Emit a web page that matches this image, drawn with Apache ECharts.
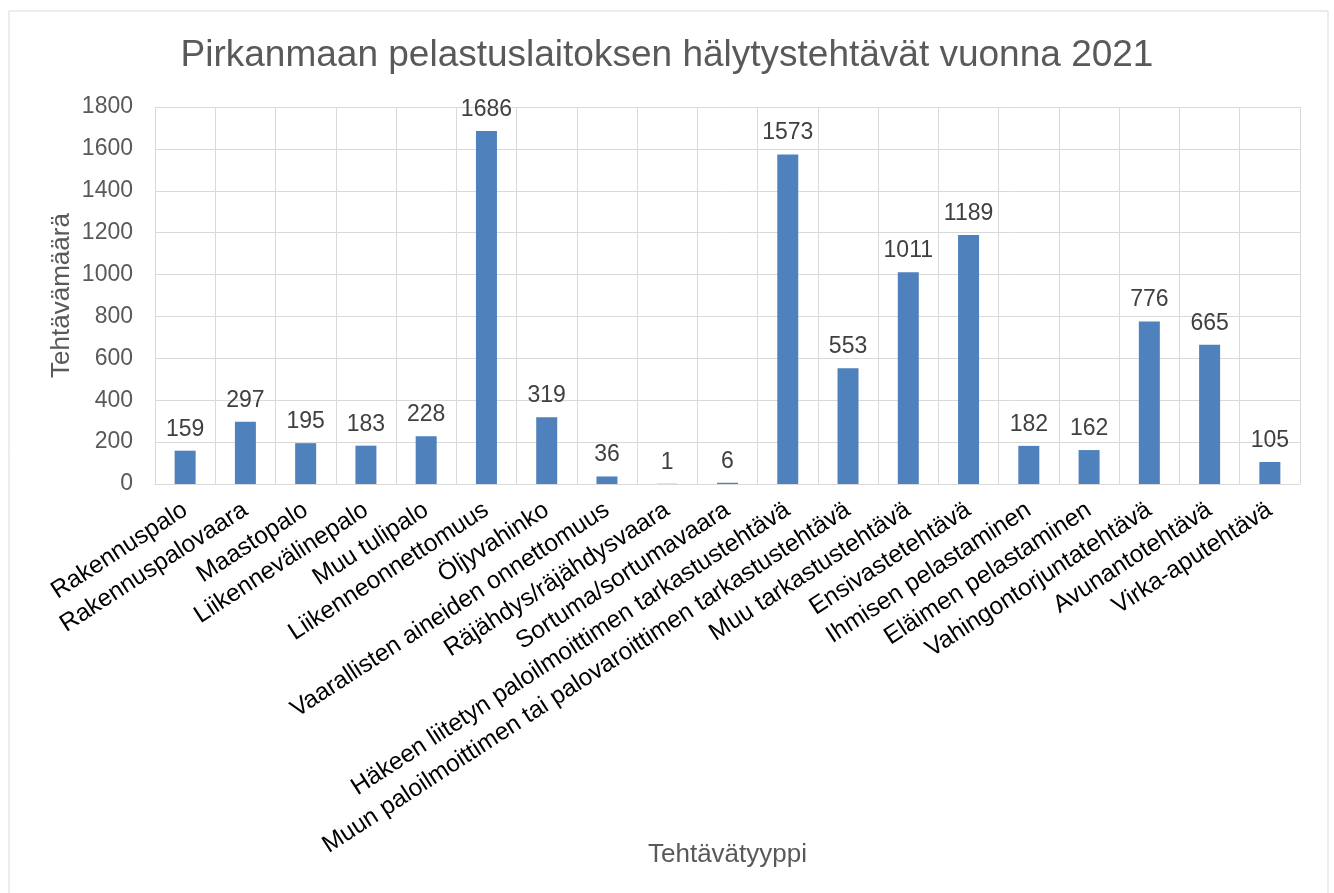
<!DOCTYPE html>
<html>
<head>
<meta charset="utf-8">
<script src="https://cdn.jsdelivr.net/npm/echarts@6/dist/echarts.min.js"></script>
<style>
html, body { margin: 0; padding: 0; background: #fff; }
#chart { width: 1334px; height: 893px; }
</style>
</head>
<body>
<div id="chart"></div>
<script>
var categories = ['Rakennuspalo', 'Rakennuspalovaara', 'Maastopalo', 'Liikennevälinepalo', 'Muu tulipalo',
    'Liikenneonnettomuus', 'Öljyvahinko', 'Vaarallisten aineiden onnettomuus', 'Räjähdys/räjähdysvaara',
    'Sortuma/sortumavaara', 'Häkeen liitetyn paloilmoittimen tarkastustehtävä',
    'Muun paloilmoittimen tai palovaroittimen tarkastustehtävä', 'Muu tarkastustehtävä', 'Ensivastetehtävä',
    'Ihmisen pelastaminen', 'Eläimen pelastaminen', 'Vahingontorjuntatehtävä', 'Avunantotehtävä', 'Virka-aputehtävä'];
var counts = [159, 297, 195, 183, 228, 1686, 319, 36, 1, 6, 1573, 553, 1011, 1189, 182, 162, 776, 665, 105];

var chart = echarts.init(document.getElementById('chart'));

var option = {
    backgroundColor: '#fff',
    animation: false,
    textStyle: { fontFamily: 'Liberation Sans, Arial, sans-serif' },
    title: {
        text: 'Pirkanmaan pelastuslaitoksen hälytystehtävät vuonna 2021',
        left: 'center',
        top: 32,
        textStyle: { color: '#595959', fontSize: 37, fontWeight: 'normal' }
    },
    graphic: [{
        type: 'rect',
        shape: { x: 9, y: 11, width: 1319, height: 900 },
        style: { fill: 'none', stroke: '#d9d9d9', lineWidth: 1 },
        silent: true
    }],
    grid: { left: 155, right: 34, top: 107, bottom: 409 },
    xAxis: {
        type: 'category',
        data: categories,
        name: 'Tehtävätyyppi',
        nameLocation: 'middle',
        nameGap: 358,
        nameMoveOverlap: false,
        nameTextStyle: { color: '#595959', fontSize: 26 },
        axisLine: { lineStyle: { color: '#d9d9d9', width: 1 } },
        axisTick: { show: false },
        splitLine: { show: true, interval: 0, lineStyle: { color: '#d9d9d9', width: 1 } },
        axisLabel: { interval: 0, rotate: 33, color: '#000', fontSize: 24.5, margin: 24 }
    },
    yAxis: {
        type: 'value',
        min: 0,
        max: 1800,
        interval: 200,
        name: 'Tehtävämäärä',
        nameLocation: 'middle',
        nameGap: 80,
        nameMoveOverlap: false,
        nameTextStyle: { color: '#595959', fontSize: 26 },
        axisLine: { show: false },
        axisTick: { show: false },
        splitLine: { lineStyle: { color: '#d9d9d9', width: 1 } },
        axisLabel: {
            color: '#595959', fontSize: 23, margin: 22,
            formatter: function (v) { return String(v); }
        }
    },
    series: [{
        type: 'bar',
        data: counts,
        barWidth: 21,
        itemStyle: { color: '#4f81bd' },
        label: { show: true, position: 'top', distance: 10, color: '#404040', fontSize: 23 }
    }]
};

chart.setOption(option);
</script>
</body>
</html>
